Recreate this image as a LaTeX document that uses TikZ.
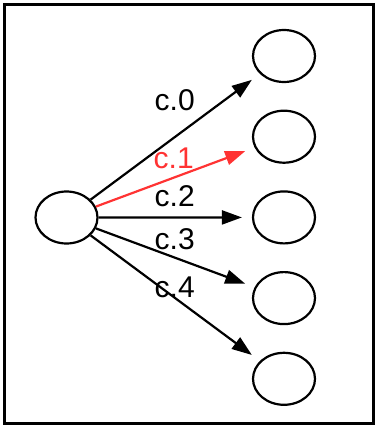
\documentclass[tikz,border=0pt]{standalone}
\usepackage{fontspec}
\usepackage{tikz}
\usetikzlibrary{shapes.geometric, arrows.meta, positioning}
\newfontfamily\lblfont{Liberation Sans}
\definecolor{hlred}{HTML}{FF3333}

\begin{document}
\begin{tikzpicture}[
  x=1pt, y=-1pt,
  state/.style={ellipse, draw, line width=2.2pt, minimum width=62pt, minimum height=52pt, inner sep=0pt},
  arr/.style={-{Triangle[length=20pt, width=14pt]}, line width=2.2pt, shorten >=10pt},
  lbl/.style={anchor=base west, inner sep=0pt, font=\lblfont\fontsize{30}{34}\selectfont}
]
\useasboundingbox (0,0) rectangle (375,426);
\draw[line width=3pt] (4.3,4.5) rectangle (373.8,423.5);

\node[state] (src) at (66.5,217.5) {};
\node[state] (t0) at (284,56) {};
\node[state, below=26.5pt of t0] (t1) {};
\node[state, below=26.5pt of t1] (t2) {};
\node[state, below=26.5pt of t2] (t3) {};
\node[state, below=26.5pt of t3] (t4) {};

\draw[arr] (src) -- (t0);
\draw[arr, draw=hlred, fill=hlred] (src) -- (t1);
\draw[arr] (src) -- (t2);
\draw[arr] (src) -- (t3);
\draw[arr] (src) -- (t4);

\node[lbl] (l0) at (154.5,110) {c.0};
\node[lbl, text=hlred] (l1) at (153.5,168) {c.1};
\node[lbl] (l2) at (154.5,206) {c.2};
\node[lbl] (l3) at (154.5,249) {c.3};
\node[lbl] (l4) at (154.5,297) {c.4};
\end{tikzpicture}
\end{document}
